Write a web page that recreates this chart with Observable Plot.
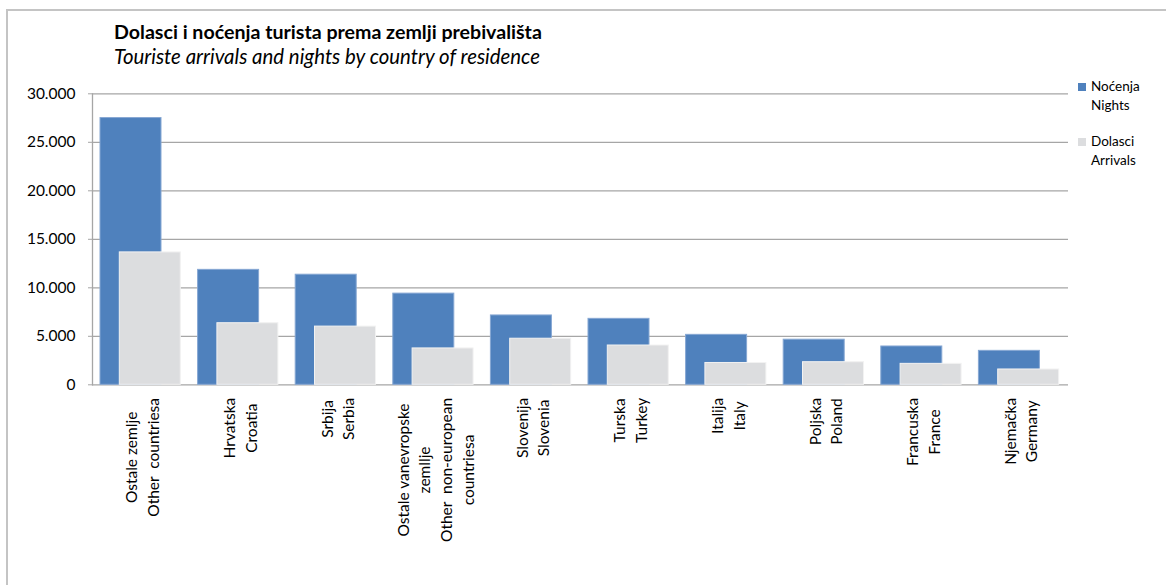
<!DOCTYPE html>
<html><head><meta charset="utf-8">
<script src="https://cdn.jsdelivr.net/npm/d3@7"></script>
<script src="https://cdn.jsdelivr.net/npm/@observablehq/plot@0.6"></script>
<style>
body{margin:0;background:#fff;}
#wrap{position:relative;width:1166px;height:585px;overflow:hidden;font-family:Lato,sans-serif;color:#000;}
#frame{position:absolute;left:6px;top:9px;width:1300px;height:800px;border:2px solid #c4c4c4;}
#chart{position:absolute;left:0;top:0;}
#title{position:absolute;left:114px;top:21px;font-weight:bold;font-size:19.6px;line-height:22px;white-space:nowrap;}
#subtitle{position:absolute;left:114px;top:45px;font-style:italic;font-size:20.4px;line-height:22px;white-space:nowrap;}
.leg{position:absolute;left:1091px;font-size:13.5px;line-height:19px;white-space:pre;}
.sw{position:absolute;left:1078px;width:8px;height:8px;}
</style></head><body>
<div id="wrap">
 <div id="frame"></div>
 <div id="chart"></div>
 <div id="title">Dolasci i noćenja turista prema zemlji prebivališta</div>
 <div id="subtitle">Touriste arrivals and nights by country of residence</div>
 <div id="legend"></div>
</div>
<script>
const categories = [
  "Ostale zemlje\nOther  countriesa",
  "Hrvatska\nCroatia",
  "Srbija\nSerbia",
  "Ostale vanevropske\nzemllje\nOther  non-european\ncountriesa",
  "Slovenija\nSlovenia",
  "Turska\nTurkey",
  "Italija\nItaly",
  "Poljska\nPoland",
  "Francuska\nFrance",
  "Njemačka\nGermany"
];
const nights   = [27500, 11850, 11350, 9400, 7150, 6800, 5150, 4650, 3950, 3500];
const arrivals = [13650, 6350, 6000, 3750, 4750, 4050, 2250, 2330, 2160, 1580];
const yTicks = [0, 5000, 10000, 15000, 20000, 25000, 30000];
const seriesNames = ["Noćenja\nNights", "Dolasci\nArrivals"];
const seriesColors = ["#4f81bd", "#dcdddf"];

const rows = categories.map((c, i) => ({cat: c, nights: nights[i], arrivals: arrivals[i]}));
const fmt = v => d3.format(",")(v).replace(/,/g, ".");
const labelSize = 15.5;
const ctx = document.createElement("canvas").getContext("2d");
ctx.font = `${labelSize}px Lato`;

const labelMarks = categories.map(c => {
  const w = d3.max(c.split("\n"), l => ctx.measureText(l).width);
  return Plot.text([c], {
    x: d => d, frameAnchor: "bottom", rotate: -90,
    textAnchor: "middle", lineAnchor: "middle", lineHeight: 1.4,
    dy: 13 + w / 2, fontSize: labelSize, fill: "#000"
  });
});

const chart = Plot.plot({
  width: 1166, height: 585,
  marginTop: 93.3, marginBottom: 200.7, marginLeft: 92, marginRight: 98,
  style: {fontFamily: "Lato, sans-serif", background: "transparent", overflow: "visible"},
  x: {type: "band", domain: categories, padding: 0, round: false, axis: null},
  y: {domain: [0, 30000], axis: null},
  marks: [
    Plot.ruleY(yTicks, {stroke: "#a6a6a6", strokeWidth: 1.3}),
    Plot.frame({anchor: "left", stroke: "#a6a6a6", strokeWidth: 1.3}),
    Plot.axisY({ticks: yTicks, tickFormat: fmt, tickSize: 4, tickPadding: 13, fontSize: labelSize, color: "#000", stroke: "#a6a6a6"}),
    Plot.barY(rows, {x: "cat", y: "nights", fill: seriesColors[0], stroke: "#86a7d3", strokeWidth: 1, insetLeft: 8, insetRight: 28.6}),
    Plot.barY(rows, {x: "cat", y: "arrivals", fill: seriesColors[1], stroke: "#f2f2f2", strokeWidth: 1, insetLeft: 27.3, insetRight: 9.3}),
    ...labelMarks
  ]
});
document.getElementById("chart").appendChild(chart);

const legend = document.getElementById("legend");
seriesNames.forEach((n, i) => {
  const top = 83 + i * 55;
  const sw = document.createElement("div");
  sw.className = "sw"; sw.style.top = top + "px"; sw.style.background = seriesColors[i];
  legend.appendChild(sw);
  const t = document.createElement("div");
  t.className = "leg"; t.style.top = (top - 6) + "px"; t.textContent = n;
  legend.appendChild(t);
});
</script>
</body></html>
